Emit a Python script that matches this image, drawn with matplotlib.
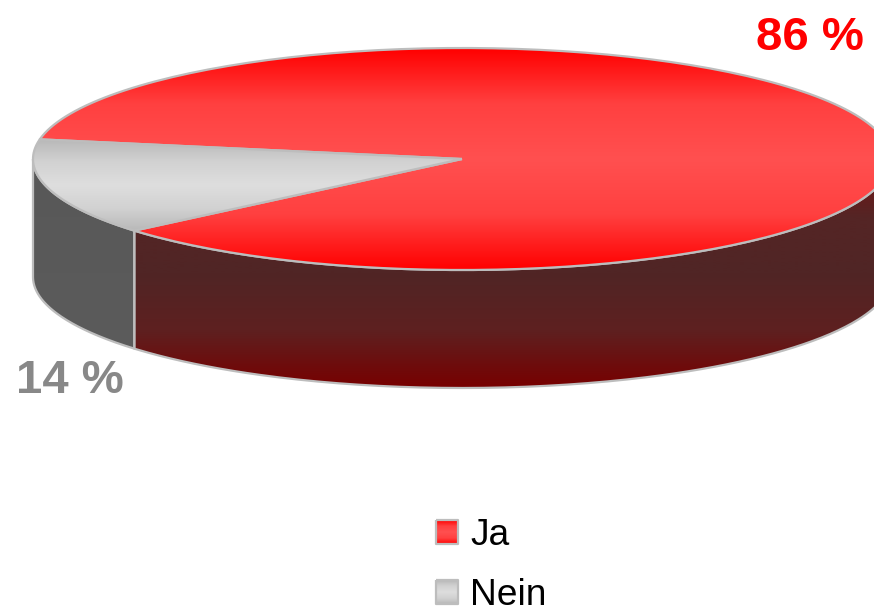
import numpy as np
import matplotlib
matplotlib.use("Agg")
import matplotlib.pyplot as plt
from matplotlib.path import Path
from matplotlib.patches import PathPatch
from matplotlib.colors import LinearSegmentedColormap

categories = ["Ja", "Nein"]
values = [86, 14]
labels = ["86 %", "14 %"]

top_colors = [["#ff0000", "#ff4040", "#ff5050", "#ff4040", "#ff0000"], ["#b8b8b8", "#d2d2d2", "#dedede", "#d2d2d2", "#b8b8b8"]]
side_colors = [["#7a1010", "#552525", "#502525", "#5e2020", "#780000"], ["#585858", "#5c5c5c"]]
label_colors = ["#ff0000", "#888888"]
edge = "#bdbdbd"

# pie geometry in pixels
cx, cy = 462, 159
rx, ry = 429, 111
depth = 118
start = 169.8  # where Nein begins, going counterclockwise

plt.rcParams["font.family"] = ["Liberation Sans", "DejaVu Sans"]

fig = plt.figure(figsize=(8.74, 6.08), dpi=100)
ax = fig.add_axes([0, 0, 1, 1])
ax.set_xlim(0, 874)
ax.set_ylim(608, 0)
ax.axis("off")


def rim(a0, a1, dy=0):
  t = np.radians(np.linspace(a0, a1, 200))
  return np.column_stack([cx + rx * np.cos(t), cy - ry * np.sin(t) + dy])


def gradient(verts, colors, y0, y1, x0=0, x1=874, z=1):
  # vertical gradient clipped to a closed polygon
  cmap = LinearSegmentedColormap.from_list("g", colors)
  grad = np.linspace(0, 1, 256).reshape(-1, 1)
  im = ax.imshow(grad, cmap=cmap, extent=[x0, x1, y1, y0], aspect="auto", zorder=z, interpolation="bilinear")
  patch = PathPatch(Path(np.vstack([verts, verts[:1]])), facecolor="none", edgecolor=edge, linewidth=1.6, zorder=z + 0.5, joinstyle="round")
  ax.add_patch(patch)
  im.set_clip_path(patch)
  ax.set_xlim(0, 874)
  ax.set_ylim(608, 0)


# sweep of each slice
nein_a0 = start
nein_a1 = start + values[1] * 3.6
ja_a0 = nein_a1
ja_a1 = start + 360

# side walls, only the front half shows
side_gray = np.vstack([rim(180, nein_a1), rim(nein_a1, 180, depth)])
side_red = np.vstack([rim(nein_a1, 360), rim(360, nein_a1, depth)])
gradient(side_gray, side_colors[1], 159, cy + ry + depth, z=1)
gradient(side_red, side_colors[0], 159, cy + ry + depth, z=1)

# top face
top_ja = np.vstack([[[cx, cy]], rim(ja_a0, ja_a1)])
top_nein = np.vstack([[[cx, cy]], rim(nein_a0, nein_a1)])
gradient(top_ja, top_colors[0], cy - ry, cy + ry, z=3)
nein_y = rim(nein_a0, nein_a1)[:, 1]
gradient(top_nein, top_colors[1], nein_y.min(), nein_y.max(), z=4)

# value labels
ax.text(810, 50, labels[0], color=label_colors[0], fontsize=34, fontweight="bold", ha="center", va="baseline", zorder=6)
ax.text(70, 393, labels[1], color=label_colors[1], fontsize=34, fontweight="bold", ha="center", va="baseline", zorder=6)

# legend
for i, name in enumerate(categories):
  y = 520 + i * 60
  box = np.array([[436, y], [458, y], [458, y + 24], [436, y + 24]], dtype=float)
  gradient(box, top_colors[i], y, y + 24, z=5)
  ax.text(470, y + 25, name, color="black", fontsize=26.7, ha="left", va="baseline", zorder=6)

fig.savefig("out.png", dpi=100, facecolor="white")
